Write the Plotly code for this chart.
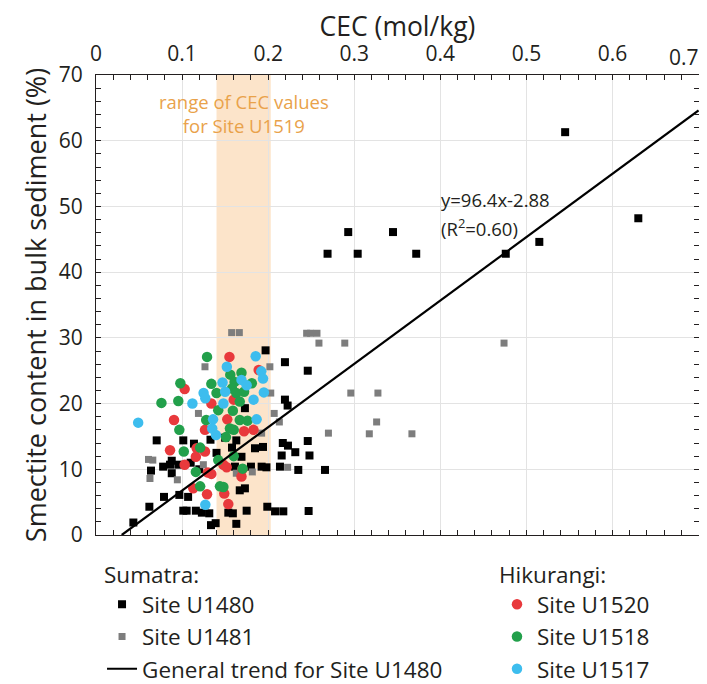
import plotly.graph_objects as go

# ---- data (CEC in mol/kg, smectite in %) ----
u1480_x = [0.0434, 0.062, 0.0639, 0.0705, 0.078, 0.079, 0.086, 0.088, 0.088, 0.0956,
           0.0968, 0.1014, 0.1014, 0.1053, 0.107, 0.1138, 0.116, 0.123, 0.1316, 0.133,
           0.1336, 0.139, 0.1537, 0.159, 0.163, 0.158, 0.163, 0.169, 0.1614, 0.167,
           0.173, 0.175, 0.173, 0.1847, 0.194, 0.1924, 0.198, 0.199, 0.197, 0.208,
           0.2176, 0.2137, 0.2157, 0.217, 0.223, 0.2195, 0.2195, 0.2226, 0.2315, 0.235,
           0.246, 0.246, 0.248, 0.247, 0.266, 0.14, 0.15, 0.18, 0.12, 0.11,
           0.269, 0.293, 0.304, 0.345, 0.372, 0.476, 0.515, 0.545, 0.630]
u1480_y = [1.9, 4.3, 9.8, 14.4, 10.4, 5.8, 10.7, 9.4, 11.3, 10.7,
           6.1, 14.4, 3.7, 3.7, 5.8, 13.9, 3.7, 3.4, 3.3, 14.5,
           1.5, 1.8, 3.4, 3.3, 1.7, 13.3, 14.4, 11.9, 10.4, 6.8,
           7.1, 3.7, 19.3, 13.2, 13.4, 10.4, 10.3, 4.3, 28.1, 3.6,
           3.6, 10.4, 12.1, 14.0, 13.6, 26.3, 20.6, 19.7, 12.6, 9.9,
           25.0, 14.3, 12.1, 3.65, 9.9, 12.5, 14.8, 10.4, 10.0, 11.0,
           42.8, 46.1, 42.8, 46.1, 42.8, 42.8, 44.6, 61.3, 48.2]

u1481_x = [0.061, 0.066, 0.0627, 0.0945, 0.119, 0.1266, 0.1576, 0.1665, 0.1247, 0.163,
           0.1816, 0.1924, 0.202, 0.203, 0.207, 0.213, 0.2226, 0.2447, 0.2493, 0.2567,
           0.259, 0.289, 0.270, 0.296, 0.3275, 0.326, 0.3175, 0.367, 0.474]
u1481_y = [11.5, 11.4, 8.6, 8.4, 18.5, 25.6, 30.8, 30.8, 10.7, 9.4,
           9.6, 15.5, 25.6, 21.6, 18.5, 17.2, 10.3, 30.7, 30.7, 30.7,
           29.2, 29.2, 15.5, 21.6, 21.6, 17.2, 15.4, 15.4, 29.2]

u1520_x = [0.155, 0.103, 0.189, 0.134, 0.160, 0.0906, 0.1525, 0.1266, 0.172, 0.183,
           0.086, 0.117, 0.116, 0.1266, 0.103, 0.130, 0.134, 0.148, 0.1518, 0.169,
           0.113, 0.129, 0.149, 0.1537, 0.170]
u1520_y = [27.1, 22.2, 25.1, 20.0, 20.6, 17.5, 17.6, 16.0, 15.8, 16.0,
           12.9, 13.2, 11.9, 12.7, 10.7, 9.5, 9.3, 10.7, 10.3, 8.9,
           7.1, 6.2, 6.3, 4.7, 10.0]

u1518_x = [0.129, 0.098, 0.076, 0.0956, 0.0968, 0.134, 0.140, 0.156, 0.161, 0.169,
           0.158, 0.163, 0.172, 0.181, 0.167, 0.142, 0.159, 0.128, 0.167, 0.176,
           0.1556, 0.160, 0.151, 0.102, 0.121, 0.160, 0.142, 0.1703, 0.116, 0.121,
           0.144, 0.148]
u1518_y = [27.1, 23.1, 20.1, 20.4, 16.0, 23.0, 21.6, 24.4, 23.3, 24.7,
           22.3, 21.6, 21.8, 23.1, 20.3, 19.0, 18.9, 17.5, 17.5, 17.4,
           16.2, 16.0, 14.9, 12.7, 13.3, 12.0, 11.4, 10.1, 9.6, 7.4,
           7.4, 7.3]

u1517_x = [0.1855, 0.152, 0.049, 0.112, 0.125, 0.127, 0.147, 0.150, 0.148, 0.169,
           0.175, 0.192, 0.194, 0.195, 0.183, 0.136, 0.135, 0.1394, 0.1866, 0.127]
u1517_y = [27.2, 25.6, 17.1, 20.0, 21.6, 20.8, 23.2, 21.8, 20.0, 23.6,
           22.8, 24.9, 23.8, 21.7, 20.6, 17.6, 16.2, 15.2, 17.6, 4.6]

trend_slope = 96.4
trend_intercept = -2.88
trend_r2 = 0.60
trend_x = [-trend_intercept / trend_slope, 0.7]
trend_y = [trend_slope * v + trend_intercept for v in trend_x]

u1519_cec_range = [0.14, 0.203]

x_ticks = [0, 0.1, 0.2, 0.3, 0.4, 0.5, 0.6, 0.7]
x_tick_labels = ["0", "0.1", "0.2", "0.3", "0.4", "0.5", "0.6", "0.7"]
y_ticks = [0, 10, 20, 30, 40, 50, 60, 70]

FONT = "Open Sans"
TXT = "#231f20"
X_RANGE = [0, 0.7005]

fig = go.Figure()

fig.add_trace(go.Scatter(x=u1480_x, y=u1480_y, mode="markers", name="Site U1480",
                         marker=dict(symbol="square", size=8, color="black"),
                         legend="legend", legendrank=1))
fig.add_trace(go.Scatter(x=u1481_x, y=u1481_y, mode="markers", name="Site U1481",
                         marker=dict(symbol="square", size=7, color="#7d7d7d"),
                         legend="legend", legendrank=2))
fig.add_trace(go.Scatter(x=u1520_x, y=u1520_y, mode="markers", name="Site U1520",
                         marker=dict(symbol="circle", size=10.5, color="#e8393c"),
                         legend="legend2", legendrank=4))
fig.add_trace(go.Scatter(x=u1518_x, y=u1518_y, mode="markers", name="Site U1518",
                         marker=dict(symbol="circle", size=10.5, color="#22a04b"),
                         legend="legend2", legendrank=5))
fig.add_trace(go.Scatter(x=u1517_x, y=u1517_y, mode="markers", name="Site U1517",
                         marker=dict(symbol="circle", size=10.5, color="#3dbdee"),
                         legend="legend2", legendrank=6))
fig.add_trace(go.Scatter(x=trend_x, y=trend_y, mode="lines", name="General trend for Site U1480",
                         line=dict(color="black", width=2.2),
                         legend="legend", legendrank=3))
# empty helper trace so that the overlay axis carrying the last tick label is drawn
fig.add_trace(go.Scatter(x=[], y=[], xaxis="x2", showlegend=False, hoverinfo="skip"))

fig.add_shape(type="rect", xref="x", yref="paper",
              x0=u1519_cec_range[0], x1=u1519_cec_range[1], y0=0, y1=1,
              fillcolor="rgb(252,228,202)", line_width=0, layer="below")

fig.add_annotation(x=sum(u1519_cec_range) / 2, y=64.1, xref="x", yref="y",
                   text="range of CEC values<br>for Site U1519", showarrow=False,
                   font=dict(family=FONT, size=18.5, color="#e9a24a"), align="center")
fig.add_annotation(x=0.398, y=51.0, xref="x", yref="y", xanchor="left",
                   text=f"y={trend_slope}x-{abs(trend_intercept)}", showarrow=False,
                   font=dict(family=FONT, size=18.5, color=TXT), align="left")
fig.add_annotation(x=0.398, y=46.8, xref="x", yref="y", xanchor="left",
                   text=f"(R<sup>2</sup>={trend_r2:.2f})", showarrow=False,
                   font=dict(family=FONT, size=18.5, color=TXT), align="left")

axis_common = dict(showline=True, linecolor="#231f20", linewidth=1.2, mirror="allticks",
                   ticks="inside", ticklen=5, tickcolor="#231f20", showgrid=True,
                   gridcolor="#e3e3e3", gridwidth=1, zeroline=False,
                   tickfont=dict(family=FONT, size=21, color=TXT))

fig.update_layout(
    xaxis=dict(range=X_RANGE, side="top", tickvals=x_ticks[:-1], ticktext=x_tick_labels[:-1],
               ticklabelstandoff=5, automargin=True,
               title=dict(text="CEC (mol/kg)", font=dict(family=FONT, size=26.5, color=TXT), standoff=7),
               minor=dict(dtick=0.02, ticks="inside", ticklen=5, tickcolor="#231f20", showgrid=False),
               **axis_common),
    xaxis2=dict(range=X_RANGE, overlaying="x", side="top", tickvals=x_ticks[-1:],
                ticktext=x_tick_labels[-1:], ticklabelposition="outside left",
                ticklabelstandoff=5, ticks="", showline=False, showgrid=False, zeroline=False,
                automargin=False, tickfont=dict(family=FONT, size=21, color=TXT)),
    yaxis=dict(range=[0, 70], tickvals=y_ticks, ticklabelstandoff=8, automargin=False,
               title=dict(text="Smectite content in bulk sediment (%)",
                          font=dict(family=FONT, size=27, color=TXT), standoff=4),
               minor=dict(dtick=2, ticks="inside", ticklen=5, tickcolor="#231f20", showgrid=False),
               **axis_common),
)

legend_common = dict(orientation="v", xanchor="left", yanchor="top", bgcolor="rgba(0,0,0,0)",
                     font=dict(family=FONT, size=22.5, color=TXT), tracegroupgap=0,
                     itemclick=False)
fig.update_layout(
    width=699, height=676,
    margin=dict(l=88, r=8, t=67, b=149, autoexpand=False),
    paper_bgcolor="white", plot_bgcolor="white",
    showlegend=True,
    legend=dict(x=0.01, y=-0.041, title=dict(text="Sumatra:", font=dict(family=FONT, size=22.5, color=TXT)),
                **legend_common),
    legend2=dict(x=0.665, y=-0.041, title=dict(text="Hikurangi:", font=dict(family=FONT, size=22.5, color=TXT)),
                 **legend_common),
)

fig.write_html("out.html")
